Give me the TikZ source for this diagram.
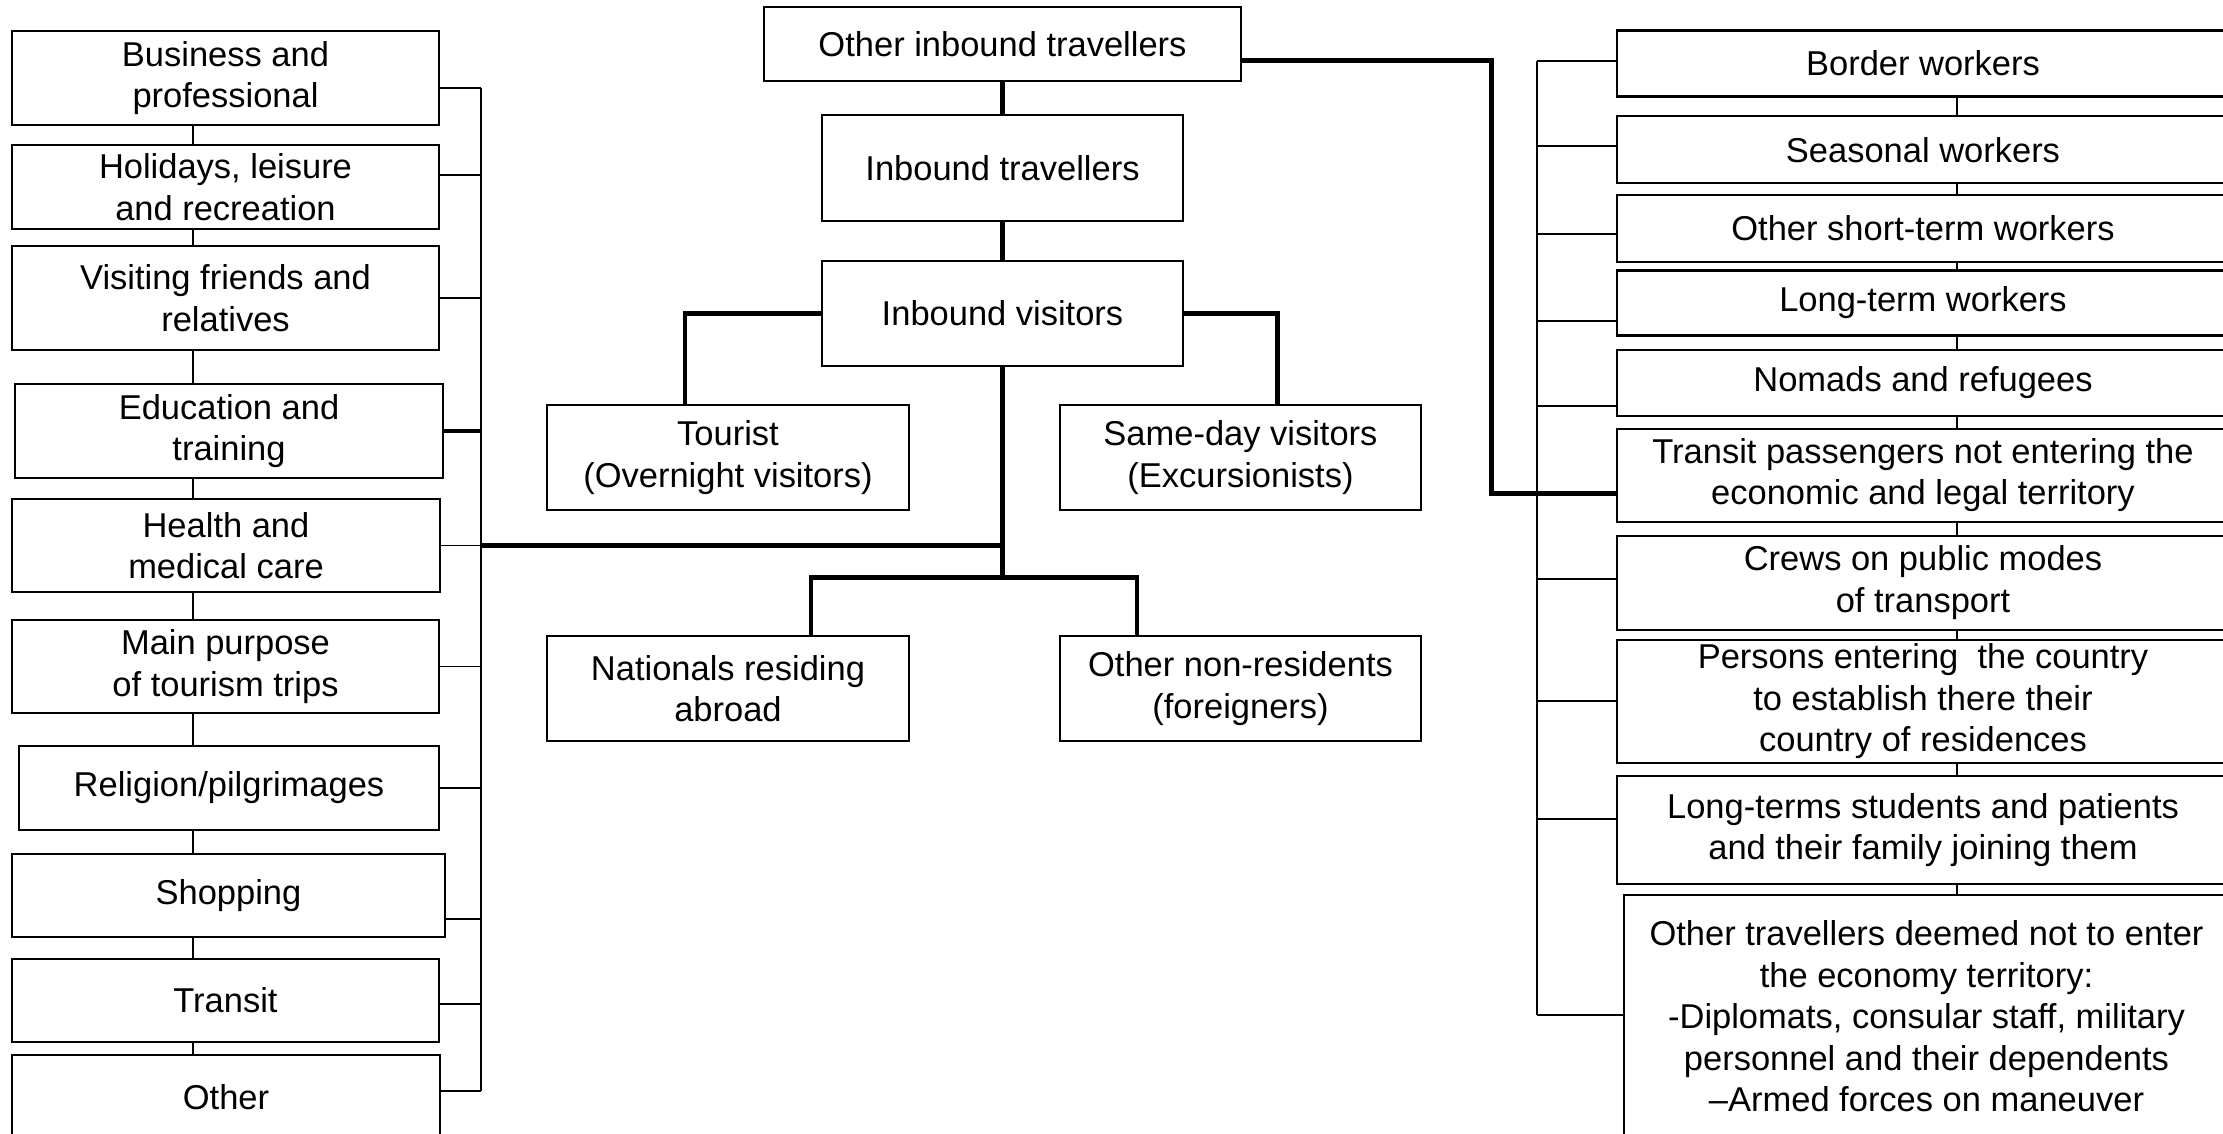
\documentclass[tikz,border=0pt]{standalone}
\usepackage{fontspec}
\setmainfont{Liberation Sans}
\usetikzlibrary{calc}

\tikzset{
  box/.style 2 args={draw, line width=0.8pt, inner sep=0pt, align=center,
    minimum width=#1*0.35pt, minimum height=#2*0.35pt,
    font=\fontsize{12.07}{14.5}\selectfont},
  link/.style={line width=0.65pt},
  trunk/.style={line width=1.7pt}
}

\begin{document}
\begin{tikzpicture}[x=0.35pt, y=-0.35pt]
  \useasboundingbox (0,0) rectangle (2223,1133);

  % purposes
  \node[box={427}{94}]  (busi) at (225.5,   78)   {Business and\\professional};
  \node[box={427}{84}]  (holi) at (225.5,  187)   {Holidays, leisure\\and recreation};
  \node[box={427}{104}] (visi) at (225.5,  298)   {Visiting friends and\\relatives};
  \node[box={428}{94}]  (educ) at (229,    431)   {Education and\\training};
  \node[box={428}{93}]  (heal) at (226,    545.5) {Health and\\medical care};
  \node[box={427}{93}]  (main) at (225.5,  666.5) {Main purpose\\of tourism trips};
  \node[box={420}{84}]  (reli) at (229,    788)   {Religion/pilgrimages};
  \node[box={433}{83}]  (shop) at (228.5,  895.5) {Shopping};
  \node[box={427}{83}]  (tran) at (225.5, 1000.5) {Transit};
  \node[box={428}{84}]  (othr) at (226,   1097)   {Other};

  % inbound travellers
  \node[box={477}{74}]  (oit)  at (1002.5,  44)   {Other inbound travellers};
  \node[box={361}{106}] (itr)  at (1002.5, 168)   {Inbound travellers};
  \node[box={361}{105}] (ivi)  at (1002.5, 313.5) {Inbound visitors};
  \node[box={362}{105}] (tour) at (728,    457.5) {Tourist\\(Overnight visitors)};
  \node[box={361}{105}] (sday) at (1240.5, 457.5) {Same-day visitors\\(Excursionists)};
  \node[box={362}{105}] (natl) at (728,    688.5) {Nationals residing\\abroad};
  \node[box={361}{105}] (nonr) at (1240.5, 688.5) {Other non-residents\\(foreigners)};

  % not visitors
  \node[box={612}{66}]  (bord) at (1923,    63.4) {Border workers};
  \node[box={612}{67}]  (seas) at (1923,   149.8) {Seasonal workers};
  \node[box={612}{67}]  (shrt) at (1923,   228.4) {Other short-term workers};
  \node[box={612}{65}]  (long) at (1923,   303)   {Long-term workers};
  \node[box={612}{66}]  (noma) at (1923,   383)   {Nomads and refugees};
  \node[box={612}{93}]  (pass) at (1923,   475.3) {Transit passengers not entering the\\economic and legal territory};
  \node[box={612}{94}]  (crew) at (1923,   582.7) {Crews on public modes\\of transport};
  \node[box={612}{123}] (pers) at (1923,   701.2) {Persons entering\ \ the country\\to establish there their\\country of residences};
  \node[box={612}{108}] (stud) at (1923,   829.8) {Long-terms students and patients\\and their family joining them};
  \node[box={605}{243}] (dipl) at (1926.5, 1016.4) {Other travellers deemed not to enter\\the economy territory:\\-Diplomats, consular staff, military\\personnel and their dependents\\--Armed forces on maneuver};

  \coordinate (lspine) at (193, 0);
  \coordinate (lbus)   at (481, 0);
  \coordinate (rjog)   at (1491.6, 0);
  \coordinate (rbus)   at (1537, 0);
  \coordinate (rspine) at (1957, 0);

  % left column
  \foreach \a/\b in {busi/holi, holi/visi, visi/educ, educ/heal, heal/main,
                     main/reli, reli/shop, shop/tran, tran/othr}
    \draw[link] (\a.south -| lspine) -- (\b.north -| lspine);
  \foreach \n/\d in {busi/10, holi/-12, visi/0, educ/0, heal/0, main/0,
                     reli/0, shop/23.5, tran/3.5, othr/-6} {
    \path ($(\n.east)+(0,\d)$) coordinate (s\n);
    \draw[link] (s\n) -- (s\n -| lbus);
  }
  \draw[link] (sbusi -| lbus) -- (sothr -| lbus);
  \draw[line width=1.2pt] (seduc) -- (seduc -| lbus);

  % middle
  \draw[trunk] (oit.south) -- (itr.north);
  \draw[trunk] (itr.south) -- (ivi.north);
  \draw[trunk] (ivi.west) -| ($(tour.north)+(-43,0)$);
  \draw[trunk] (ivi.east) -| ($(sday.north)+(37,0)$);
  \draw[trunk] (ivi.south) -- ++(0,210) coordinate (fork);
  \draw[trunk] ($(natl.north)+(83,0)$) |- (fork) -| ($(nonr.north)+(-103.5,0)$);
  \draw[trunk] (sheal -| lbus) -- (sheal -| ivi.south);

  % right column
  \foreach \a/\b in {bord/seas, seas/shrt, shrt/long, long/noma, noma/pass,
                     pass/crew, crew/pers, pers/stud, stud/dipl}
    \draw[link] (\a.south -| rspine) -- (\b.north -| rspine);
  \foreach \n/\d in {bord/-2.7, seas/-3.4, shrt/5.6, long/17.7, noma/23.4,
                     pass/18.3, crew/-4, pers/-0.5, stud/-11, dipl/-1.8} {
    \path ($(\n.west)+(0,\d)$) coordinate (s\n);
    \draw[link] (s\n) -- (s\n -| rbus);
  }
  \draw[link] (sbord -| rbus) -- (sdipl -| rbus);
  \draw[trunk] ($(oit.east)+(0,16.6)$) -| (rjog |- spass) -- (spass);
\end{tikzpicture}
\end{document}
